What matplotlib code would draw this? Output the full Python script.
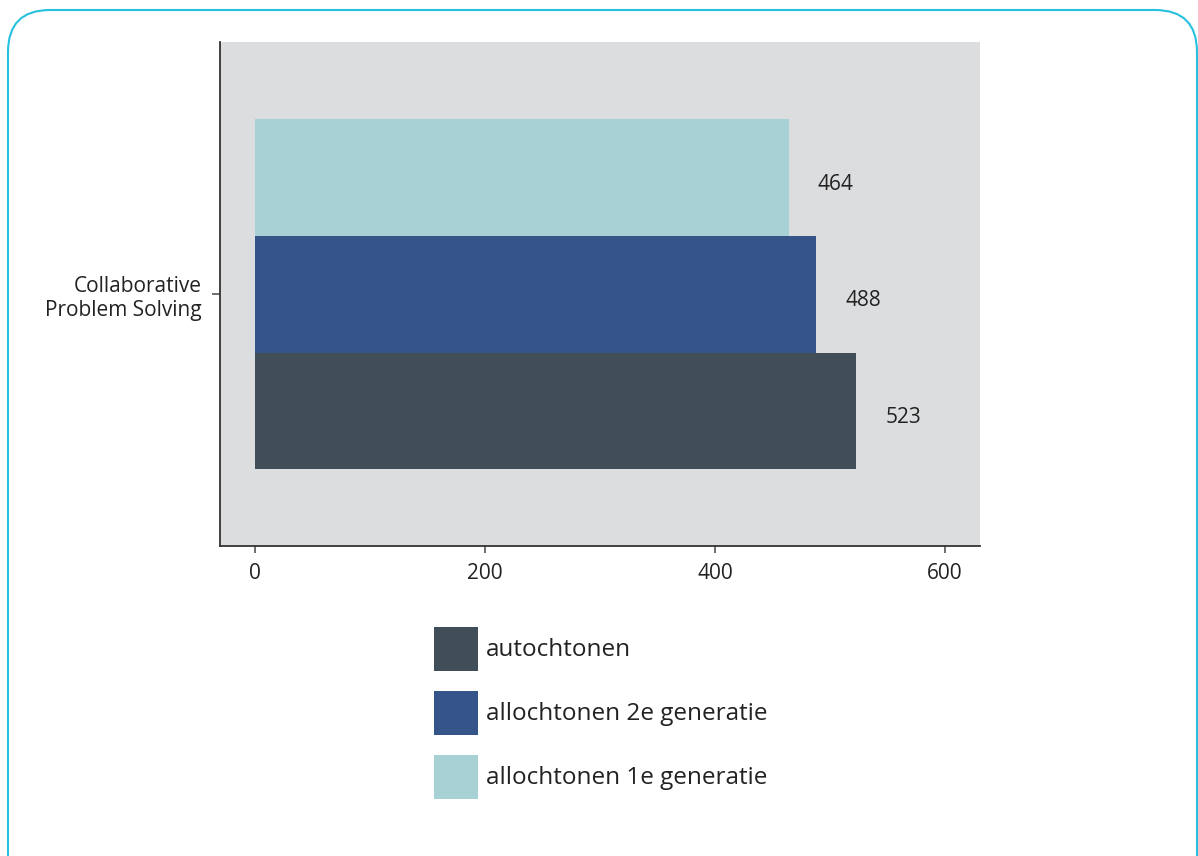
import matplotlib
matplotlib.use("Agg")
import matplotlib.pyplot as plt
from matplotlib.patches import Patch, FancyBboxPatch

plt.rcParams['font.family'] = ['Open Sans', 'DejaVu Sans']

category = "Collaborative\nProblem Solving"
groups = ["autochtonen", "allochtonen 2e generatie", "allochtonen 1e generatie"]
scores = [523, 488, 464]
colors = ["#414e58", "#34548a", "#a8d1d6"]
xticks = [0, 200, 400, 600]

text_col = "#222222"

fig = plt.figure(figsize=(11.98, 8.56), dpi=100)
ax = fig.add_axes([0.1836, 0.3621, 0.6344, 0.5888])
ax.set_facecolor("#dcdddf")

positions = [-1, 0, 1]
for pos, val, col in zip(positions, scores, colors):
    ax.barh(pos, val, height=1.0, color=col, zorder=2)
    ax.annotate(str(val), xy=(val, pos), xytext=(21, -5), textcoords="offset points",
                ha="left", va="center", fontsize=15, color=text_col)

ax.set_xlim(-30.4, 630.4)
ax.set_ylim(-2.155, 2.155)
ax.set_xticks(xticks)
ax.set_xticklabels([str(t) for t in xticks], fontsize=15, color=text_col)
ax.set_yticks([0])
ax.set_yticklabels([category], fontsize=15, color=text_col, ha="right")
ax.tick_params(axis="x", length=5, width=1.2, color="#555555", pad=7)
ax.tick_params(axis="y", length=6, width=1.2, color="#555555", pad=7)

for side in ["top", "right"]:
    ax.spines[side].set_visible(False)
for side in ["left", "bottom"]:
    ax.spines[side].set_color("#333333")
    ax.spines[side].set_linewidth(1.3)

handles = [Patch(facecolor=c, edgecolor="none") for c in colors]
fig.legend(handles, groups, loc="upper left", bbox_to_anchor=(434 / 1198, 1 - 627 / 856),
           frameon=False, fontsize=17.5, handlelength=1.81, handleheight=2.41,
           handletextpad=0.33, labelspacing=0.82, borderpad=0, borderaxespad=0,
           labelcolor=text_col)

# rounded frame round the figure, open at the bottom
frame = FancyBboxPatch((0.08, -1.0), 11.89, 9.46,
                       boxstyle="round,pad=0,rounding_size=0.42",
                       transform=fig.dpi_scale_trans, facecolor="none",
                       edgecolor="#27c1e0", linewidth=1.5, clip_on=False)
fig.patches.append(frame)

fig.savefig("out.png", dpi=100)
